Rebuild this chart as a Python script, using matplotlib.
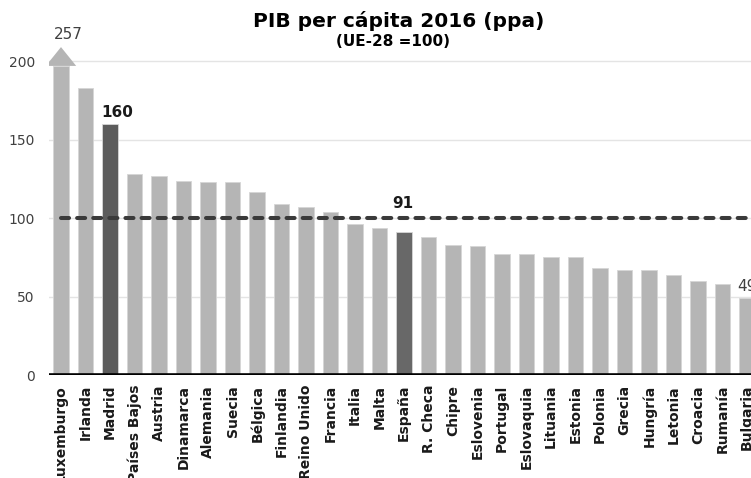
import matplotlib
matplotlib.use("Agg")
import matplotlib.pyplot as plt

# PIB per cápita 2016 (ppa), UE-28 = 100
paises = [
    "Luxemburgo", "Irlanda", "Madrid", "Países Bajos", "Austria", "Dinamarca",
    "Alemania", "Suecia", "Bélgica", "Finlandia", "Reino Unido", "Francia",
    "Italia", "Malta", "España", "R. Checa", "Chipre", "Eslovenia", "Portugal",
    "Eslovaquia", "Lituania", "Estonia", "Polonia", "Grecia", "Hungría",
    "Letonia", "Croacia", "Rumanía", "Bulgaria",
]
pib = [257, 183, 160, 128, 127, 124, 123, 123, 117, 109, 107, 104, 96, 94,
       91, 88, 83, 82, 77, 77, 75, 75, 68, 67, 67, 64, 60, 58, 49]
media_ue = 100
destacados = {"Madrid": "#5c5c5c", "España": "#686868"}
etiquetas = ["Luxemburgo", "Madrid", "España", "Bulgaria"]

COLOR_BAR = "#b5b5b5"
COLOR_TEXT = "#404040"
COLOR_GRID = "#e4e4e4"
TOPE = 197  # bars above this are cut and drawn with an arrow head

W, H = 751, 478
fig = plt.figure(figsize=(W / 100, H / 100), dpi=100)
# axes run past the right edge, so the last bar gets cut like in the original
ax = fig.add_axes([48.75 / W, 102.8 / H, 710.5 / W, 345.4 / H])

x = list(range(len(paises)))
alturas = [min(v, TOPE) for v in pib]
colores = [destacados.get(p, COLOR_BAR) for p in paises]
ax.bar(x, alturas, width=0.65, color=colores, edgecolor="#d6d6d6",
       linewidth=0.6, zorder=2)

# arrow head for the capped bar(s)
for i, v in enumerate(pib):
    if v > TOPE:
        ax.fill([i - 0.62, i + 0.62, i], [TOPE, TOPE, TOPE + 12],
                color=COLOR_BAR, linewidth=0, zorder=2)

ax.plot([0, len(paises) - 1], [media_ue, media_ue], color="#3a3a3a",
        linewidth=2.9, dashes=(2.0, 2.0), dash_capstyle="round", zorder=3)

for yv in [50, 100, 150, 200]:
    ax.axhline(yv, color=COLOR_GRID, linewidth=1, zorder=1)
ax.axhline(0, color="black", linewidth=2.6, zorder=4)

# data labels
for p in etiquetas:
    i = paises.index(p)
    v = pib[i]
    if p == "Luxemburgo":
        ax.annotate(str(v), (i, TOPE + 12), xytext=(5, 4), textcoords="offset points",
                    ha="center", va="bottom", fontsize=11, color=COLOR_TEXT,
                    annotation_clip=False)
    elif p == "Madrid":
        ax.annotate(str(v), (i, v), xytext=(5, 3), textcoords="offset points",
                    ha="center", va="bottom", fontsize=11, fontweight="bold",
                    color="#1a1a1a")
    elif p == "España":
        ax.annotate(str(v), (i, media_ue), xytext=(-1, 5), textcoords="offset points",
                    ha="center", va="bottom", fontsize=11, fontweight="bold",
                    color="#1a1a1a")
    else:
        ax.annotate(str(v), (i, v), xytext=(0, 3), textcoords="offset points",
                    ha="center", va="bottom", fontsize=11, color=COLOR_TEXT,
                    annotation_clip=False)

ax.set_xlim(-0.5, len(paises) - 0.5)
ax.set_ylim(0, 220)
ax.set_yticks([0, 50, 100, 150, 200])
ax.tick_params(axis="y", length=0, pad=10, labelsize=10, labelcolor=COLOR_TEXT)
ax.set_xticks(x)
ax.set_xticklabels(paises, rotation=90, fontsize=10, fontweight="bold",
                   color="#1a1a1a")
ax.tick_params(axis="x", length=0, pad=7)
for s in ax.spines.values():
    s.set_visible(False)

fig.text(399 / W, 1 - 21 / H, "PIB per cápita 2016 (ppa)", ha="center",
         va="center", fontsize=14.5, fontweight="bold", color="black")
fig.text(393 / W, 1 - 42 / H, "(UE-28 =100)", ha="center", va="center",
         fontsize=11, fontweight="bold", color="black")

fig.savefig("out.png", dpi=100)
